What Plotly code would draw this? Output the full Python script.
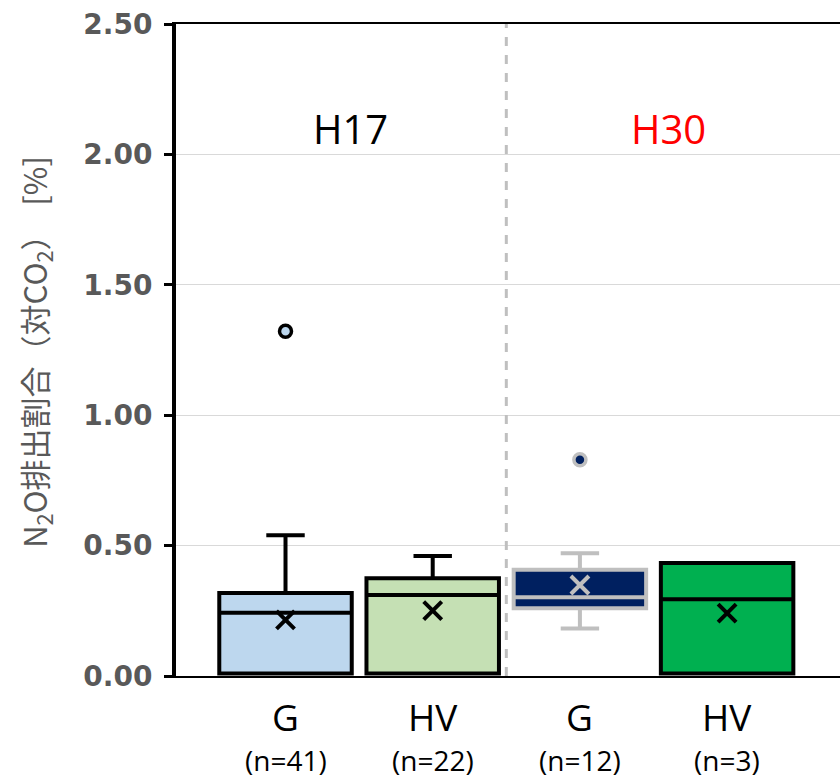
import plotly.graph_objects as go

# ---- data ----
groups = ["H17 G", "H17 HV", "H30 G", "H30 HV"]
positions = [0, 1, 2, 3]
labels = ["G", "HV", "G", "HV"]
counts = ["(n=41)", "(n=22)", "(n=12)", "(n=3)"]
q1 = [0.01, 0.01, 0.26, 0.01]
median = [0.243, 0.311, 0.302, 0.294]
q3 = [0.318, 0.375, 0.407, 0.433]
lowerfence = [0.01, 0.01, 0.182, 0.01]
upperfence = [0.540, 0.460, 0.471, 0.433]
means = [0.215, 0.251, 0.349, 0.241]
outlier_pos = [0, 2]
outlier_val = [1.322, 0.829]

# ---- styles ----
fills = ["#BDD7EE", "#C5E0B4", "#002060", "#00B050"]
edges = ["#000000", "#000000", "#BFBFBF", "#000000"]

fig = go.Figure()
for i in range(4):
    fig.add_trace(go.Box(
        x=[positions[i]], q1=[q1[i]], median=[median[i]], q3=[q3[i]],
        lowerfence=[lowerfence[i]], upperfence=[upperfence[i]],
        width=0.9, whiskerwidth=0.29, fillcolor=fills[i],
        line=dict(color=edges[i], width=4), boxpoints=False,
        name=groups[i], showlegend=False, hoverinfo="skip"))

for j, p in enumerate(outlier_pos):
    fig.add_trace(go.Scatter(
        x=[p], y=[outlier_val[j]], mode="markers", showlegend=False,
        marker=dict(symbol="circle", size=12, color=fills[p],
                    line=dict(color=edges[p], width=3.5))))

for i in range(4):
    fig.add_trace(go.Scatter(
        x=[positions[i]], y=[means[i]], mode="markers", showlegend=False,
        marker=dict(symbol="x-thin", size=18,
                    line=dict(color=edges[i], width=4))))

fig.add_shape(type="line", x0=1.5, x1=1.5, xref="x", y0=0, y1=1, yref="paper",
              line=dict(color="#BFBFBF", width=3, dash="dash"))

ann = []
for i in range(4):
    ann.append(dict(x=positions[i], y=-0.062, xref="x", yref="paper", text=labels[i],
                    showarrow=False, xanchor="center", yanchor="middle",
                    font=dict(family="Open Sans", size=37, color="black")))
    ann.append(dict(x=positions[i], y=-0.129, xref="x", yref="paper", text=counts[i],
                    showarrow=False, xanchor="center", yanchor="middle",
                    font=dict(family="Open Sans", size=28, color="black")))
ann.append(dict(x=0.44, y=0.840, xref="x", yref="paper", text="H17", showarrow=False,
                xanchor="center", yanchor="middle",
                font=dict(family="Open Sans", size=40, color="black")))
ann.append(dict(x=2.60, y=0.840, xref="x", yref="paper", text="H30", showarrow=False,
                xanchor="center", yanchor="middle",
                font=dict(family="Open Sans", size=40, color="#FF0000")))
ann.append(dict(x=-0.211, y=0.497, xref="paper", yref="paper", textangle=-90,
                xanchor="center", yanchor="middle",
                text="N<sub>2</sub>O排出割合（対CO<sub>2</sub>）  [%]", showarrow=False,
                font=dict(family="Noto Sans CJK JP", size=31, color="#595959")))

fig.update_layout(
    width=840, height=779, margin=dict(l=176, r=0, t=24, b=103),
    plot_bgcolor="white", paper_bgcolor="white", annotations=ann,
    xaxis=dict(range=[-0.744, 3.767], showticklabels=False, showgrid=False,
               zeroline=False, showline=True, linecolor="black", linewidth=2,
               mirror=True, ticks=""),
    yaxis=dict(range=[0, 2.5], dtick=0.5, tickformat=".2f", showgrid=True,
               gridcolor="#D9D9D9", gridwidth=1, zeroline=False, showline=True,
               linecolor="black", linewidth=4, ticks="outside", ticklen=8,
               tickwidth=3, tickcolor="black", ticklabelstandoff=6,
               tickfont=dict(family="DejaVu Sans", size=28, color="#595959",
                             weight="bold")),
)
fig.write_html("out.html")
